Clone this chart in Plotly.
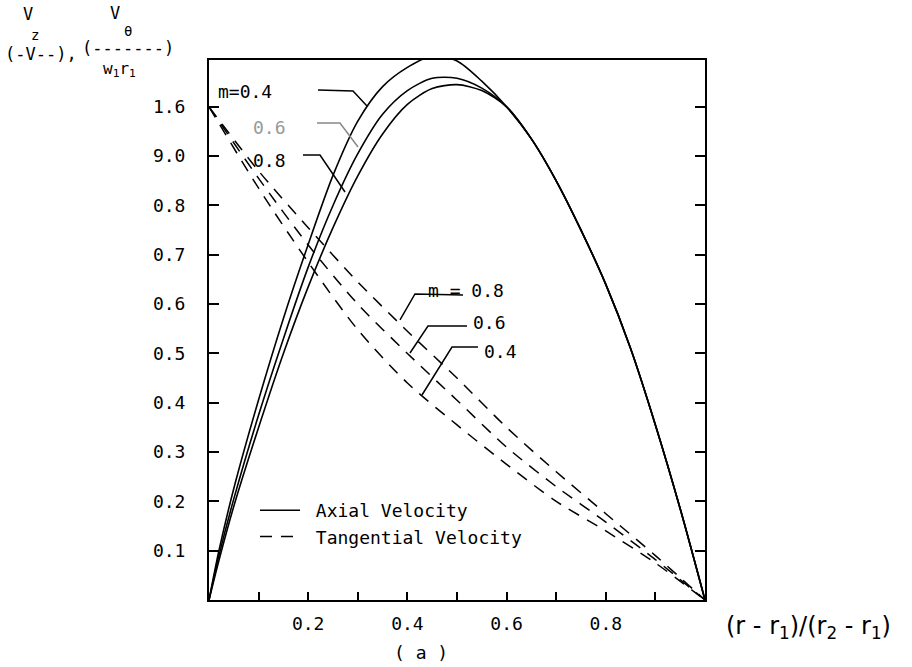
import plotly.graph_objects as go

# ---------------- data ----------------
m_values = ["0.4", "0.6", "0.8"]

# Axial velocity Vz/V  (solid)
axial_x = [0, 0.02, 0.05, 0.10, 0.15, 0.20, 0.25, 0.30, 0.35, 0.40, 0.45, 0.50, 0.55, 0.60,
           0.65, 0.70, 0.75, 0.80, 0.85, 0.90, 0.95, 1.0]
axial_y = {
    "0.4": [0, 0.10, 0.226, 0.406, 0.571, 0.721, 0.861, 0.971, 1.041, 1.08, 1.103, 1.093, 1.052, 1.0,
            0.935, 0.85, 0.75, 0.64, 0.51, 0.355, 0.185, 0],
    "0.6": [0, 0.09, 0.205, 0.375, 0.53, 0.675, 0.80, 0.905, 0.985, 1.033, 1.058, 1.058, 1.038, 1.0,
            0.935, 0.85, 0.75, 0.64, 0.51, 0.355, 0.185, 0],
    "0.8": [0, 0.08, 0.19, 0.35, 0.50, 0.635, 0.755, 0.86, 0.945, 1.005, 1.037, 1.045, 1.033, 1.0,
            0.935, 0.85, 0.75, 0.64, 0.51, 0.355, 0.185, 0],
}

# Tangential velocity Vtheta/(w1 r1)  (dashed)
tang_x = [0, 0.1, 0.2, 0.3, 0.4, 0.5, 0.6, 0.7, 0.8, 0.9, 1.0]
tang_y = {
    "0.4": [1.0, 0.835, 0.685, 0.548, 0.44, 0.355, 0.275, 0.20, 0.14, 0.075, 0],
    "0.6": [1.0, 0.855, 0.72, 0.60, 0.50, 0.405, 0.31, 0.23, 0.158, 0.082, 0],
    "0.8": [1.0, 0.87, 0.755, 0.645, 0.545, 0.45, 0.35, 0.26, 0.175, 0.09, 0],
}

y_tickvals = [0.1, 0.2, 0.3, 0.4, 0.5, 0.6, 0.7, 0.8, 0.9, 1.0]
y_ticktext = ["0.1", "0.2", "0.3", "0.4", "0.5", "0.6", "0.7", "0.8", "9.0", "1.6"]
x_tickvals = [0.2, 0.4, 0.6, 0.8]
x_ticktext = ["0.2", "0.4", "0.6", "0.8"]

# ---------------- layout geometry ----------------
W, H = 912, 667
L, R, T, B = 209, 705, 60, 600
YMAX = 1.095
FONT = "DejaVu Sans Mono"


def px(xp):
    return (xp - L) / (R - L)


def py(yp):
    return (B - yp) / (B - T)


def dx(xp):
    return (xp - L) / (R - L)


def dy(yp):
    return (B - yp) / (B - T) * YMAX


fig = go.Figure()

for i, m in enumerate(m_values):
    fig.add_trace(go.Scatter(
        x=axial_x, y=axial_y[m], mode="lines",
        line=dict(color="black", width=1.6, shape="spline", smoothing=0.8),
        name=" Axial Velocity", legendgroup="axial", showlegend=(i == 0)))

for i, m in enumerate(m_values):
    fig.add_trace(go.Scatter(
        x=tang_x, y=tang_y[m], mode="lines",
        line=dict(color="black", width=1.5, dash="12px,9px", shape="spline", smoothing=0.8),
        name=" Tangential Velocity", legendgroup="tang", showlegend=(i == 0)))

# leader lines (decoration)
leaders = [
    [(318, 90), (353, 91), (367, 106)],
    [(317, 123), (340, 123), (358, 147)],
    [(303, 155), (320, 155), (345, 192)],
    [(463, 295), (415, 294), (400, 320)],
    [(467, 326), (428, 326), (410, 353)],
    [(478, 347), (452, 347), (422, 395)],
]
leader_colors = ["black", "#888888", "black", "black", "black", "black"]
for pts, c in zip(leaders, leader_colors):
    path = "M " + " L ".join(f"{dx(a):.4f},{dy(b):.4f}" for a, b in pts)
    fig.add_shape(type="path", path=path, xref="x", yref="y",
                  line=dict(color=c, width=1.5))

ann = []


def add_text(text, xp, yp, size=17, color="black", xanchor="left", yanchor="middle", family=FONT):
    ann.append(dict(text=text, x=px(xp), y=py(yp), xref="paper", yref="paper",
                    showarrow=False, xanchor=xanchor, yanchor=yanchor,
                    font=dict(family=family, size=size, color=color)))


# curve labels
add_text("m=0.4", 216, 92, size=18)
add_text("0.6", 251, 128, size=18, color="#999999")
add_text("0.8", 251, 160, size=18)
add_text("m = 0.8", 426, 290, size=18)
add_text("0.6", 471, 322, size=18)
add_text("0.4", 482, 351, size=18)

# y-axis title (typewriter fractions)
add_text("V", 28, 14, xanchor="center")
add_text("z", 35, 35, size=14, xanchor="center")
add_text("(-V--),", 3, 54)
add_text("V", 115, 13, xanchor="center")
add_text("θ", 128, 31, size=14, xanchor="center")
add_text("(-------)", 80, 48)
add_text("w<sub>1</sub>r<sub>1</sub>", 119, 69, size=16, xanchor="center")

# x-axis title and caption
add_text("(r - r<sub>1</sub>)/(r<sub>2</sub> - r<sub>1</sub>)", 724, 627, size=24,
         family="DejaVu Sans")
add_text("( a )", 421, 652, size=18, xanchor="center")

fig.update_layout(
    width=W, height=H, autosize=False,
    margin=dict(l=L, r=W - R, t=T, b=H - B, pad=0),
    paper_bgcolor="white", plot_bgcolor="white",
    font=dict(family=FONT, size=17, color="black"),
    annotations=ann,
    legend=dict(x=px(255), y=py(492), xanchor="left", yanchor="top",
                bgcolor="rgba(0,0,0,0)", borderwidth=0,
                font=dict(family=FONT, size=18), tracegroupgap=0,
                itemwidth=40),
)

fig.update_xaxes(
    range=[0, 1], showgrid=False, zeroline=False,
    showline=True, linecolor="black", linewidth=2, mirror=True,
    ticks="inside", ticklen=8, tickwidth=1.5, tickcolor="black",
    tickvals=x_tickvals, ticktext=x_ticktext,
    minor=dict(dtick=0.1, tick0=0, ticks="inside", ticklen=8, tickwidth=1.5, tickcolor="black"),
    tickfont=dict(family=FONT, size=18), ticklabelstandoff=6,
)
fig.update_yaxes(
    range=[0, YMAX], showgrid=False, zeroline=False,
    showline=True, linecolor="black", linewidth=2, mirror="ticks",
    ticks="inside", ticklen=10, tickwidth=1.5, tickcolor="black",
    tickvals=y_tickvals, ticktext=y_ticktext,
    tickfont=dict(family=FONT, size=18), ticklabelstandoff=18,
)

fig.write_html("out.html", config={"displayModeBar": False},
               post_script="document.body.style.margin='0px';")
